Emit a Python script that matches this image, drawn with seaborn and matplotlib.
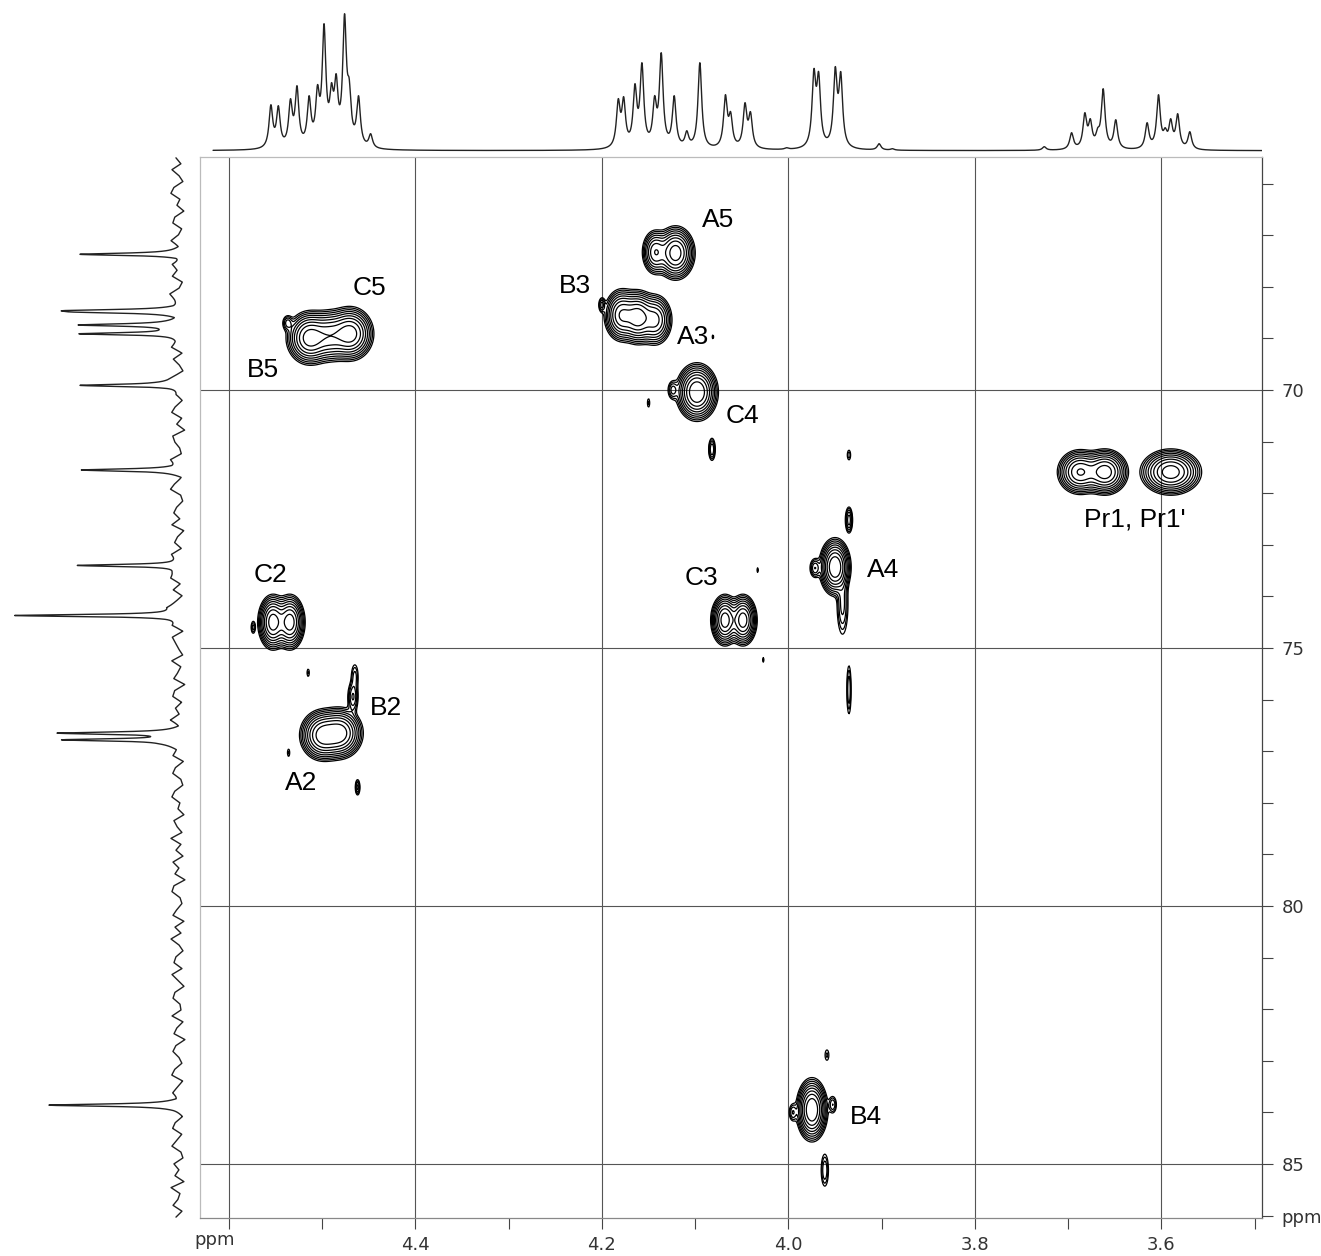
import numpy as np
import matplotlib
matplotlib.use("Agg")
import matplotlib.pyplot as plt
import seaborn as sns

# ---- 1H projection (top trace): line positions in ppm and apparent heights ----
h1_ppm = [4.555, 4.547, 4.534, 4.527, 4.514, 4.505, 4.498, 4.490, 4.485, 4.476, 4.471, 4.461, 4.448,
          4.1825, 4.1767, 4.1646, 4.1571, 4.1435, 4.1364, 4.1225, 4.109, 4.095,
          4.0676, 4.062, 4.0466, 4.0407, 4.002,
          3.9727, 3.9676, 3.9498, 3.9439, 3.9028, 3.8885, 3.7257,
          3.6964, 3.6822, 3.6763, 3.6684, 3.6625, 3.649,
          3.6154, 3.6032, 3.596, 3.5901, 3.5826, 3.5696]
h1_height = [46, 45, 52, 65, 55, 66, 127, 68, 77, 137, 72, 55, 17,
             52, 54, 67, 88, 55, 98, 55, 20, 88,
             56, 39, 48, 39, 3,
             82, 79, 84, 79, 7, 2, 4,
             18, 38, 32, 23, 62, 31,
             28, 56, 23, 32, 37, 19]

# ---- 13C projection (left trace) ----
c13_ppm = [67.37, 68.46, 68.49, 68.74, 68.83, 68.91, 69.91, 71.55, 73.40, 74.37, 76.65, 76.78, 83.86]
c13_height = [99, 112, 102, 95, 17, 101, 95, 94, 107, 166, 121, 116, 123]
# baseline wiggle, top to bottom
c13_noise = [2, -3, 6, -1, -5, 4, 7, -2, 1, -6, 3, 5, -4, -1, 6, -3, 2, -7, 4, 0,
             5, -5, -2, 7, 1, -4, 3, -6, 6, 2, -3, -1, 5, -5, 4, -2, -6, 3, 8, -3,
             0, -5, 2, 6, -4, 1, -7, 5, 3, -2, -4, 6, -1, 4, -6, 2, 7, -3, -5, 1,
             4, -2, 6, -6, 0, 3, -4, 5, -1, -7, 2, 6, -3, 4, -5, 1, 7, -2, -4, 3,
             -6, 5, 2, -1, -5, 6, -3, 0, 4, -7, 3, 5, -4, 2, -2, 6, -5, 1, -3, 7,
             -1, 4, -6, 2, 5, -3, -5, 3, 6, -2, 0, -6, 4, 1, -4, 7, -3, 2, -5, 5,
             -1, 3, -7, 4, 6, -2, -4, 1, 5, -6, 3, -3, 7, -1, -5, 2, 4, -4, 6, 0,
             -6, 3, 5, -2, -3, 6, -5, 1, 4, -7, 2, 5, -1, -4, 3, 6, -5, 0, 4, -3,
             7, -2, -6, 2, 5, -4, 1, 6, -3, -5, 4, -1, 3, -6, 7, -2, 0, 5, -4, 2]

# ---- HSQC cross peaks: 1H ppm, 13C ppm, relative intensity, widths (ppm) ----
xp_h = [4.5131, 4.4917, 4.4702, 4.537,
        4.5528, 4.5346, 4.574,
        4.4992, 4.4810, 4.465, 4.467, 4.515, 4.536, 4.462,
        4.1211, 4.1425,
        4.1786, 4.1614, 4.1432, 4.200, 4.081,
        4.0981, 4.124, 4.150, 4.067, 4.082,
        4.0681, 4.0488, 4.033, 4.027,
        3.9501, 3.9715, 3.9420, 3.9351, 3.9351, 3.9351,
        3.6874, 3.6606, 3.5900, 3.722,
        3.9748, 3.9952, 3.9525, 3.9587, 3.9610]
xp_c = [68.99, 68.95, 68.91, 68.70,
        74.50, 74.50, 74.60,
        76.69, 76.65, 75.55, 75.95, 75.48, 77.03, 77.70,
        67.345, 67.33,
        68.55, 68.59, 68.64, 68.35, 68.97,
        70.04, 70.00, 70.25, 70.95, 71.15,
        74.46, 74.46, 73.49, 75.23,
        73.43, 73.45, 74.15, 72.52, 71.26, 75.81,
        71.59, 71.59, 71.59, 71.30,
        83.95, 84.00, 83.85, 82.89, 85.12]
xp_amp = [1.0, 0.6, 1.0, 0.12,
          1.0, 1.0, 0.08,
          1.0, 1.0, 0.08, 0.16, 0.05, 0.05, 0.12,
          1.0, 0.5,
          0.8, 1.0, 0.6, 0.12, 0.04,
          1.2, 0.12, 0.05, 0.03, 0.15,
          1.0, 1.0, 0.04, 0.04,
          1.2, 0.15, 0.12, 0.2, 0.06, 0.1,
          0.8, 1.0, 1.0, 0.03,
          1.2, 0.10, 0.10, 0.05, 0.10]
xp_wh = [0.0097, 0.0097, 0.0097, 0.003,
         0.0062, 0.0062, 0.0015,
         0.0095, 0.0095, 0.0025, 0.003, 0.0012, 0.0012, 0.0015,
         0.008, 0.006,
         0.0075, 0.0075, 0.0075, 0.002, 0.001,
         0.0085, 0.003, 0.0012, 0.001, 0.002,
         0.0058, 0.0058, 0.001, 0.001,
         0.0064, 0.003, 0.0035, 0.002, 0.0015, 0.0015,
         0.0095, 0.0095, 0.0125, 0.001,
         0.0064, 0.0025, 0.0025, 0.002, 0.0025]
xp_wc = [0.20, 0.20, 0.20, 0.08,
         0.205, 0.205, 0.08,
         0.19, 0.19, 0.16, 0.16, 0.07, 0.07, 0.09,
         0.20, 0.18,
         0.20, 0.20, 0.20, 0.08, 0.05,
         0.21, 0.10, 0.08, 0.05, 0.12,
         0.19, 0.19, 0.06, 0.06,
         0.21, 0.10, 0.35, 0.13, 0.08, 0.30,
         0.17, 0.17, 0.17, 0.05,
         0.23, 0.10, 0.10, 0.10, 0.20]

# assignment labels
labels = ["A5", "B3", "C5", "A3", "B5", "C4", "Pr1, Pr1'", "C2", "C3", "A4", "B2", "A2", "B4"]
label_h = [4.0756, 4.2290, 4.4488, 4.1024, 4.5635, 4.0488, 3.6284, 4.5550, 4.0928, 3.8987, 4.4316, 4.5228, 3.9169]
label_c = [66.70, 67.98, 68.02, 68.98, 69.62, 70.50, 72.50, 73.58, 73.64, 73.49, 76.17, 77.62, 84.08]

H_LIM = (4.631, 3.4922)
C_LIM = (86.047, 65.484)

sns.set_theme(style="white")
plt.rcParams["font.family"] = ["DejaVu Sans"]


def lorentz(x, x0, w):
    return 1.0 / (1.0 + ((x - x0) / w) ** 2)


def fit_amps(pos, heights, w):
    # line amplitudes so the summed trace reaches the read heights
    pos = np.asarray(pos, float)
    heights = np.asarray(heights, float)
    L = lorentz(pos[:, None], pos[None, :], w)
    amps = heights.copy()
    for _ in range(200):
        amps *= heights / (L @ amps)
    return amps


fig = plt.figure(figsize=(13.21, 12.56), dpi=100)
W, H = 1321.0, 1256.0
ax = fig.add_axes([200 / W, 1 - 1218 / H, 1062 / W, 1061 / H])
ax_top = fig.add_axes([200 / W, 1 - 155 / H, 1062 / W, 155 / H])
ax_left = fig.add_axes([0, 1 - 1218 / H, 195 / W, 1061 / H])

# ---- top 1H trace ----
w1 = 0.0024
a1 = fit_amps(h1_ppm, h1_height, w1)
hx = np.linspace(4.617, H_LIM[1], 9000)
spec1 = (a1[None, :] * lorentz(hx[:, None], np.asarray(h1_ppm)[None, :], w1)).sum(axis=1)
sns.lineplot(x=hx, y=spec1, ax=ax_top, color="#222222", linewidth=1.0, estimator=None, sort=False)
ax_top.set_xlim(*H_LIM)
ax_top.set_ylim(-4.3, 150.7)
ax_top.axis("off")

# ---- left 13C trace ----
w13 = 0.025
a13 = fit_amps(c13_ppm, c13_height, w13)
cy = np.linspace(65.50, 86.03, 8000)
noise_pos = np.linspace(65.50, 86.03, len(c13_noise))
spec13 = (a13[None, :] * lorentz(cy[:, None], np.asarray(c13_ppm)[None, :], w13)).sum(axis=1)
spec13 = spec13 + np.interp(cy, noise_pos, c13_noise)
sns.lineplot(x=spec13, y=cy, ax=ax_left, color="#222222", linewidth=1.0,
             estimator=None, sort=False, orient="y")
ax_left.set_xlim(178, -17)
ax_left.set_ylim(*C_LIM)
ax_left.axis("off")

# ---- 2D contour map ----
gh = np.linspace(H_LIM[0], H_LIM[1], 1300)
gc = np.linspace(C_LIM[1], C_LIM[0], 1300)
Z = np.zeros((gc.size, gh.size))
for h0, c0, a, sh, sc in zip(xp_h, xp_c, xp_amp, xp_wh, xp_wc):
    gx = np.exp(-0.5 * ((gh - h0) / sh) ** 2)
    gy = np.exp(-0.5 * ((gc - c0) / sc) ** 2)
    Z += a * np.outer(gy, gx)
levels = 0.03 * 1.5 ** np.arange(9)
ax.contour(gh, gc, Z, levels=levels, colors="black", linewidths=0.9, zorder=3)

for gx_ in [4.6, 4.4, 4.2, 4.0, 3.8, 3.6]:
    ax.axvline(gx_, color="#555555", linewidth=0.8, zorder=1)
for gy_ in [70, 75, 80, 85]:
    ax.axhline(gy_, color="#555555", linewidth=0.8, zorder=1)

for lab, lh, lc in zip(labels, label_h, label_c):
    ax.text(lh, lc, lab, fontsize=19, family=["Liberation Sans", "DejaVu Sans"],
            ha="center", va="center", color="black", zorder=4)

ax.set_xlim(*H_LIM)
ax.set_ylim(*C_LIM)

# bottom ppm axis
xt = np.round(np.arange(4.6, 3.49, -0.1), 1)
ax.set_xticks(xt)
ax.set_xticklabels(["" if v in (4.6, 4.5, 4.3, 4.1, 3.9, 3.7, 3.5) else f"{v:.1f}" for v in xt])
ax.tick_params(axis="x", direction="out", length=8, width=0.8, color="#444444",
               labelsize=13, labelcolor="#333333", pad=5, bottom=True)
ax.text(4.615, -0.0125, "ppm", transform=ax.get_xaxis_transform(), ha="center", va="top",
        fontsize=13, color="#333333")

# right 13C axis
ax.yaxis.tick_right()
yt = np.arange(66, 87)
ax.set_yticks(yt)
ax.set_yticklabels([("ppm" if v == 86 else str(v)) if v in (70, 75, 80, 85, 86) else "" for v in yt])
ax.tick_params(axis="y", direction="out", length=8, width=0.8, color="#444444",
               labelsize=13, labelcolor="#333333", pad=6, right=True, left=False)

for side, col in [("left", "#bbbbbb"), ("top", "#bbbbbb"), ("right", "#444444"), ("bottom", "#888888")]:
    ax.spines[side].set_visible(True)
    ax.spines[side].set_color(col)
    ax.spines[side].set_linewidth(0.9)
ax.grid(False)

fig.savefig("out.png", dpi=100)
